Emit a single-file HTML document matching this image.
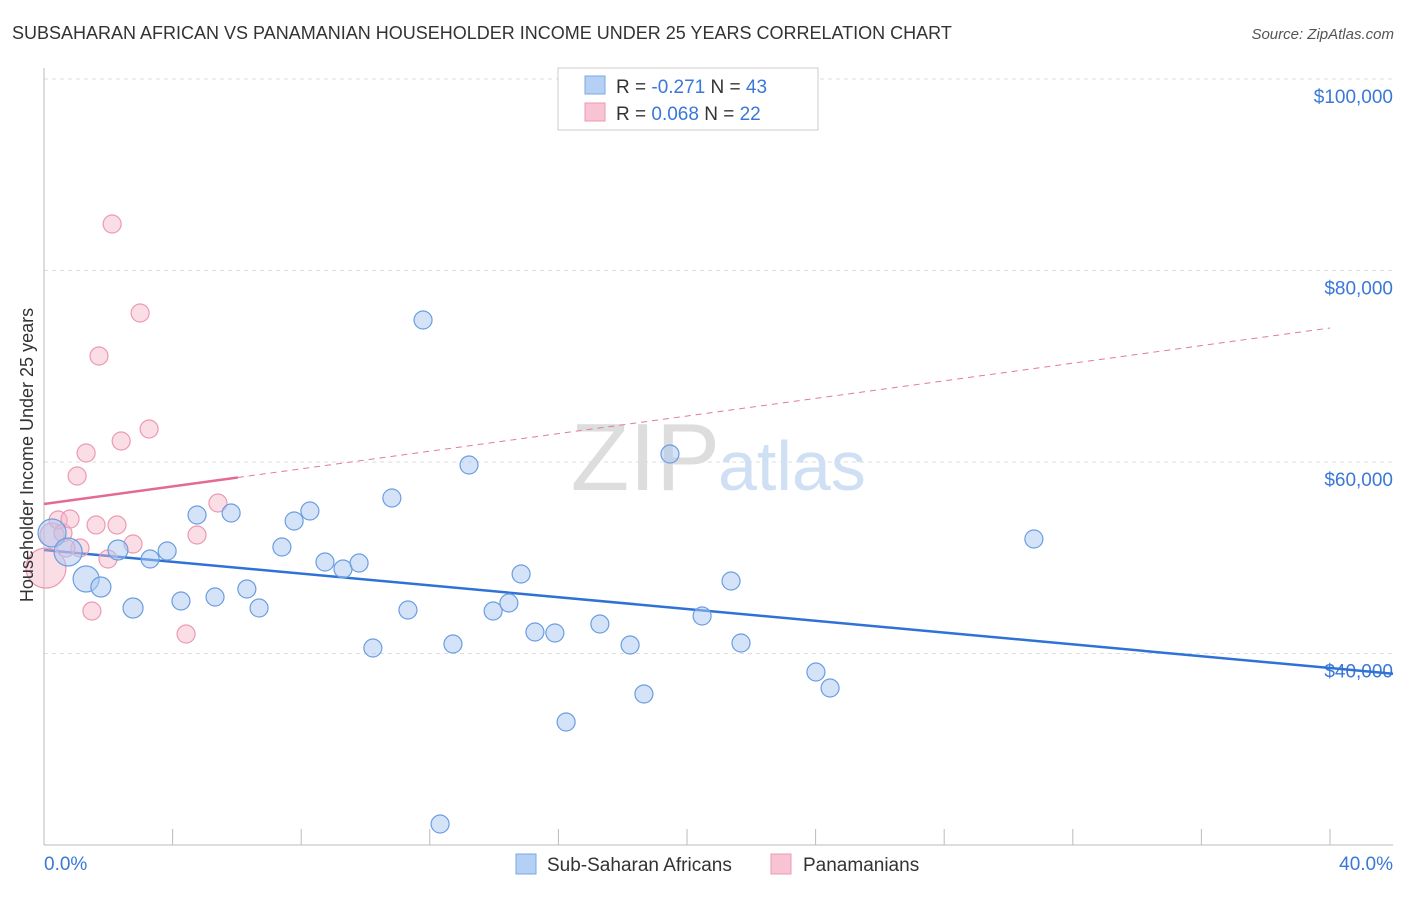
<!DOCTYPE html>
<html><head><meta charset="utf-8"><style>
body{margin:0;background:#fff;font-family:"Liberation Sans",sans-serif;}
svg text{font-family:"Liberation Sans",sans-serif;}
</style></head><body>
<svg width="1406" height="892" viewBox="0 0 1406 892">
<text x="12" y="39" font-size="18" fill="#333">SUBSAHARAN AFRICAN VS PANAMANIAN HOUSEHOLDER INCOME UNDER 25 YEARS CORRELATION CHART</text>
<text x="1394" y="39" font-size="15" fill="#555" text-anchor="end" font-style="italic">Source: ZipAtlas.com</text>
<g id="grid"></g>
<text x="720" y="490" font-size="96" fill="#ddd" text-anchor="end" font-family="Liberation Serif">ZIP</text>
<text x="718" y="490" font-size="70" fill="#cfe0f4">atlas</text>
<g id="axes"></g>
<g id="lines"></g>
<g id="points"></g>
<text x="33" y="455" font-size="18" fill="#333" text-anchor="middle" transform="rotate(-90 33 455)">Householder Income Under 25 years</text>
<g>
<rect x="558" y="68" width="260" height="62" fill="#fff" stroke="#ccc"/>
<rect x="585" y="76" width="20" height="18" fill="#b4d0f4" stroke="#7aaae6"/>
<rect x="585" y="103" width="20" height="18" fill="#f8c4d4" stroke="#eb9ab3"/>
<text x="616" y="93" font-size="19" fill="#333">R = <tspan fill="#3a78d8">-0.271</tspan>   N = <tspan fill="#3a78d8">43</tspan></text>
<text x="616" y="120" font-size="19" fill="#333">R =  <tspan fill="#3a78d8">0.068</tspan>   N = <tspan fill="#3a78d8">22</tspan></text>
</g>
<g>
<rect x="516" y="854" width="20" height="20" fill="#b4d0f4" stroke="#7aaae6"/>
<text x="547" y="871" font-size="19" fill="#333">Sub-Saharan Africans</text>
<rect x="771" y="854" width="20" height="20" fill="#f8c4d4" stroke="#eb9ab3"/>
<text x="803" y="871" font-size="19" fill="#333">Panamanians</text>
</g>
</svg>
<script>
const yTicks=[100000,80000,60000,40000];
const yTickLabels=["$100,000","$80,000","$60,000","$40,000"];
const xTickLabels=["0.0%","40.0%"];
const blueX=[0.25,0.75,1.31,1.77,2.30,2.77,3.30,3.83,4.26,4.76,5.32,5.82,6.31,6.69,7.40,7.78,8.27,8.74,9.30,9.80,10.23,10.82,11.32,11.79,12.72,13.22,13.97,14.46,14.84,15.27,15.89,16.24,17.29,18.23,18.66,19.47,20.47,21.37,21.68,24.01,24.45,30.79,12.32];
const blueY=[52585,50600,47780,46944,50809,44751,49869,50704,45482,54464,45900,54673,46736,44751,51122,53838,54882,49555,48824,49451,40574,56240,44542,74830,40991,59686,44438,45273,48302,42245,42141,32845,43080,40887,35769,60835,43916,47571,41096,38067,36396,51958,22192];
const blueR=[14,14,13,10,10,10,9,9,9,9,9,9,9,9,9,9,9,9,9,9,9,9,9,9,9,9,9,9,9,9,9,9,9,9,9,9,9,9,9,9,9,9,9];
const pinkX=[0.06,0.25,0.44,0.59,0.81,1.03,1.31,1.49,1.62,1.71,1.99,2.12,2.27,2.40,2.77,2.99,3.27,4.42,4.76,5.41,1.12,0.68];
const pinkY=[48929,52375,53942,52585,54046,58537,60939,44438,53420,71070,49869,84856,53420,62193,51435,75561,63446,42036,52375,55717,51018,51018];
const pinkR=[20,12,9,9,9,9,9,9,9,9,9,9,9,9,9,9,9,9,9,9,9,9];
const blueTrend=[50809,38487];   // value at 0% and 40%
const pinkTrend=[55613,73994];   // value at 0% and 40%
const pinkSolidEnd=6.03;

const NS="http://www.w3.org/2000/svg";
const X=p=>44+p*32.15;
const Y=v=>79+(100000-v)/20000*191.5;
function mk(tag,attrs,parent){const e=document.createElementNS(NS,tag);for(const k in attrs)e.setAttribute(k,attrs[k]);document.getElementById(parent).appendChild(e);return e;}

yTicks.forEach((v,i)=>{
  const l=mk('line',{x1:44,x2:1393,y1:Y(v),y2:Y(v),stroke:'#ddd','stroke-dasharray':'4,4'},'grid');
  
  
  const t=mk('text',{x:1393,y:Y(v)+24,'font-size':19,fill:'#3a78d8','text-anchor':'end'},'grid');
  t.textContent=yTickLabels[i];
  
  
});
const ax=mk('line',{x1:44,x2:44,y1:68,y2:845,stroke:'#bbb'},'axes');


const bx=mk('line',{x1:44,x2:1393,y1:845,y2:845,stroke:'#bbb'},'axes');


for(let p=0;p<=40;p+=4){
  const t=mk('line',{x1:X(p),x2:X(p),y1:829,y2:845,stroke:'#bbb'},'axes');
  
  
}
const xl0=mk('text',{x:44,y:870,'font-size':19,fill:'#3a78d8'},'axes');
xl0.textContent=xTickLabels[0];


const xl1=mk('text',{x:1393,y:870,'font-size':19,fill:'#3a78d8','text-anchor':'end'},'axes');
xl1.textContent=xTickLabels[1];



const bl=mk('line',{x1:X(0),y1:Y(blueTrend[0]),x2:1393,y2:Y(blueTrend[0]+(blueTrend[1]-blueTrend[0])*((1393-44)/32.15)/40),stroke:'#2f72d6','stroke-width':2.5},'lines');


const pv=p=>pinkTrend[0]+(pinkTrend[1]-pinkTrend[0])*p/40;
const pd=mk('line',{x1:X(pinkSolidEnd),y1:Y(pv(pinkSolidEnd)),x2:X(40),y2:Y(pv(40)),stroke:'#e27a9c','stroke-width':1,'stroke-dasharray':'6,5'},'lines');


const ps=mk('line',{x1:X(0),y1:Y(pv(0)),x2:X(pinkSolidEnd),y2:Y(pv(pinkSolidEnd)),stroke:'#e46a92','stroke-width':2.5},'lines');



pinkX.forEach((x,i)=>{
  const c=mk('circle',{cx:X(x),cy:Y(pinkY[i]),r:pinkR[i],fill:'rgba(246,180,200,0.45)',stroke:'#eb9ab3','stroke-width':1.2},'points');
  
  
});
blueX.forEach((x,i)=>{
  const c=mk('circle',{cx:X(x),cy:Y(blueY[i]),r:blueR[i],fill:'rgba(170,200,242,0.5)',stroke:'#6a9ee0','stroke-width':1.2},'points');
  
  
});
</script>
</body></html>
